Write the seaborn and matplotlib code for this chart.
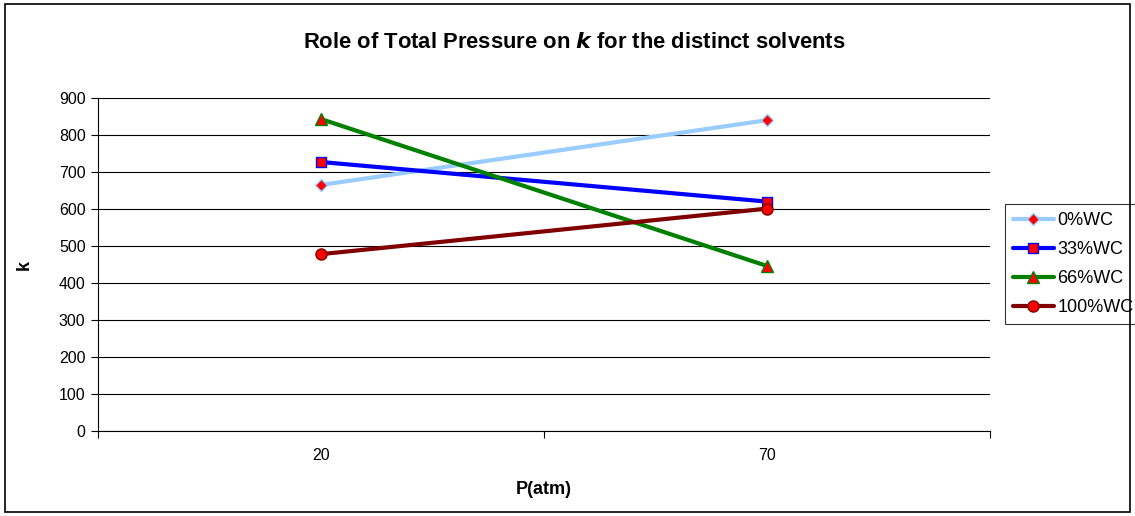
import matplotlib
matplotlib.use("Agg")
import matplotlib.pyplot as plt
import seaborn as sns
import pandas as pd
from matplotlib.patches import Rectangle

categories = ["20", "70"]
series_names = ["0%WC", "33%WC", "66%WC", "100%WC"]
vals_0 = [665, 840]
vals_33 = [727, 620]
vals_66 = [843, 446]
vals_100 = [478, 601]
line_colors = ["#99CCFF", "#0000FF", "#008000", "#800000"]
edge_colors = ["#99CCFF", "#0000FF", "#008000", "#800000"]
markers = ["D", "s", "^", "o"]
marker_sizes = [6, 7, 8, 8]

sns.set_theme(style="white")
plt.rcParams['font.family'] = ['Liberation Sans', 'DejaVu Sans']
plt.rcParams['text.color'] = 'black'
plt.rcParams['axes.labelcolor'] = 'black'
plt.rcParams['xtick.color'] = 'black'
plt.rcParams['ytick.color'] = 'black'

rows = []
for name, vals in zip(series_names, [vals_0, vals_33, vals_66, vals_100]):
    for i, v in enumerate(vals):
        rows.append({"pos": i, "k": v, "series": name})
df = pd.DataFrame(rows)

fig = plt.figure(figsize=(11.35, 5.16), dpi=100)
ax = fig.add_axes([98/1135, 1-431/516, (990-98)/1135, (431-98)/516])

for i, name in enumerate(series_names):
    sub = df[df.series == name]
    sns.lineplot(data=sub, x="pos", y="k", ax=ax, color=line_colors[i], lw=3,
                 marker=markers[i], markersize=marker_sizes[i], markerfacecolor="red",
                 markeredgecolor=edge_colors[i], markeredgewidth=1, label=name)

ax.set_xlim(-0.5, 1.5)
ax.set_ylim(0, 900)
ax.set_yticks(range(0, 901, 100))
ax.yaxis.grid(True, color="black", lw=0.8)
ax.set_axisbelow(True)
ax.set_xticks([0, 1])
ax.set_xticklabels(categories)
ax.set_xticks([-0.5, 0.5, 1.5], minor=True)
ax.tick_params(axis="x", which="major", length=0, pad=12, labelsize=11.5)
ax.tick_params(axis="x", which="minor", length=5, width=0.8, color="black", direction="out", bottom=True)
ax.tick_params(axis="y", length=5, width=0.8, color="black", direction="out", left=True, labelsize=11.5, pad=4)
for s in ["top", "right"]:
    ax.spines[s].set_visible(False)
for s in ["left", "bottom"]:
    ax.spines[s].set_color("black")
    ax.spines[s].set_linewidth(0.8)

ax.set_xlabel("P(atm)", fontsize=13, fontweight="bold")
ax.xaxis.set_label_coords(0.5, -(489-431)/(431-98))
ax.xaxis.label.set_va("center")
ax.set_ylabel("k", fontsize=13, fontweight="bold")
ax.yaxis.set_label_coords((33-98)/(990-98), 0.5)

fig.text(574/1135, 1-42/516, "Role of Total Pressure on $\\boldsymbol{k}$ for the distinct solvents",
         ha="center", va="center", fontsize=15.8, fontweight="bold")

leg = ax.legend(loc="center left", bbox_to_anchor=(1005/1135, 1-264/516), bbox_transform=fig.transFigure,
                frameon=True, fancybox=False, edgecolor="black", fontsize=13,
                handlelength=2.25, borderpad=0.45, labelspacing=0.66, handletextpad=0.2, borderaxespad=0)
leg.get_frame().set_linewidth(0.8)

fig.patches.append(Rectangle((5/1135, 4/516), 1-10/1135, 1-8/516, transform=fig.transFigure,
                             fill=False, edgecolor="black", lw=1.2))

fig.savefig("out.png", dpi=100)
